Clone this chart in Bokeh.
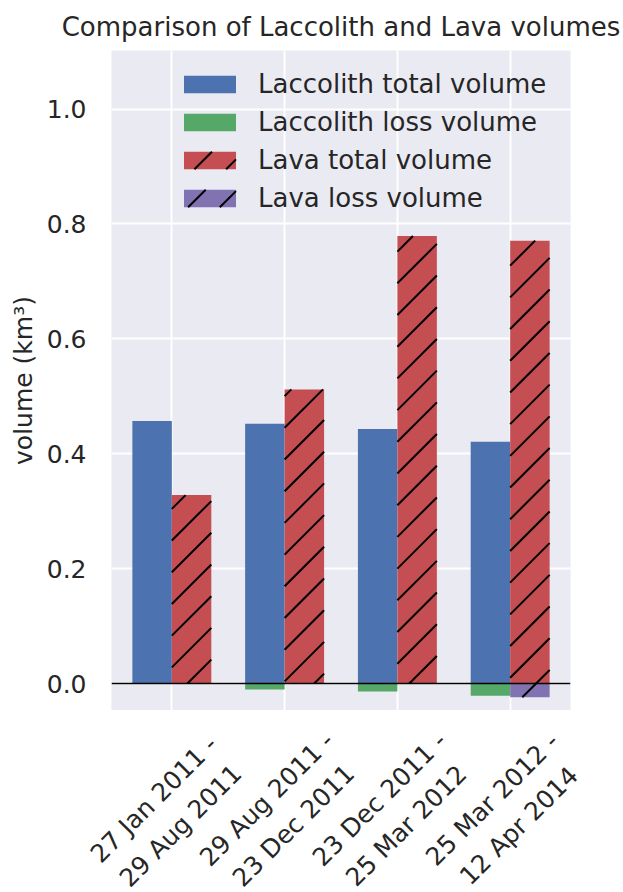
from bokeh.plotting import figure
from bokeh.models import (ColumnDataSource, Range1d, FixedTicker, Span,
                          Legend, LegendItem)
from bokeh.core.properties import value
from bokeh.layouts import column
from bokeh.embed import file_html
from bokeh.resources import INLINE
import math

# Periods compared
periods = ["27 Jan 2011 -\n29 Aug 2011",
           "29 Aug 2011 -\n23 Dec 2011",
           "23 Dec 2011 -\n25 Mar 2012",
           "25 Mar 2012 -\n12 Apr 2014"]

# Volumes in km^3
laccolith_total = [0.457, 0.452, 0.443, 0.421]
laccolith_loss = [0.0, -0.0105, -0.014, -0.0215]
lava_total = [0.328, 0.512, 0.779, 0.771]
lava_loss = [0.0, 0.0, 0.0, -0.024]

y_ticks = [0.0, 0.2, 0.4, 0.6, 0.8, 1.0]

BAR_W = 0.35
FONT = "DejaVu Sans"
TXT = "#262626"
C_LAC_TOT, C_LAC_LOSS = "#4C72B0", "#55A868"
C_LAV_TOT, C_LAV_LOSS = "#C44E52", "#8172B2"

# page / frame geometry (pixels)
W, H_MAIN, H_LABELS = 623, 710, 182
LEFT, RIGHT, TOP = 111, 53, 50
X0, X1 = -0.535, 3.535
Y0, Y1 = -0.047, 1.102
PX_X = (W - LEFT - RIGHT) / (X1 - X0)
PX_Y = (H_MAIN - TOP) / (Y1 - Y0)

idx = list(range(len(periods)))
left_x = [i - BAR_W / 2 for i in idx]
right_x = [i + BAR_W / 2 for i in idx]

src = ColumnDataSource(dict(
    lx=left_x, rx=right_x,
    lac_tot=laccolith_total, lac_loss=laccolith_loss,
    lav_tot=lava_total, lav_loss=lava_loss,
))


def to_sx(x):
    return LEFT + (x - X0) * PX_X


def to_sy(y):
    return TOP + (Y1 - y) * PX_Y


def from_sx(sx):
    return X0 + (sx - LEFT) / PX_X


def from_sy(sy):
    return Y1 - (sy - TOP) / PX_Y


HATCH_STEP, HATCH_PHASE = 31.7, 14.0


def hatch_pixels(xa, xb, ya, yb):
    """45 degree '/' strokes (x + y = c on screen) clipped to a pixel box."""
    segs = []
    k = math.floor((xa + ya - HATCH_PHASE) / HATCH_STEP)
    while True:
        c = HATCH_PHASE + k * HATCH_STEP
        if c > xb + yb:
            break
        lo, hi = max(xa, c - yb), min(xb, c - ya)
        if hi > lo:
            segs.append((lo, c - lo, hi, c - hi))
        k += 1
    return segs


def hatch_bar(xc, top):
    """hatch strokes of a bar centred at xc reaching from 0 to top (data)."""
    xa, xb = to_sx(xc - BAR_W / 2), to_sx(xc + BAR_W / 2)
    ya, yb = sorted((to_sy(0.0), to_sy(top)))
    return hatch_pixels(xa, xb, ya, yb)


def free_frame(fig):
    # keep each figure's own frame instead of lining frames up in the column
    if "frame_align" in fig.properties():
        fig.frame_align = False


p = figure(width=W, height=H_MAIN, output_backend="svg", toolbar_location=None,
           x_range=Range1d(X0, X1), y_range=Range1d(Y0, Y1),
           min_border_left=LEFT, min_border_right=RIGHT,
           min_border_top=TOP, min_border_bottom=0,
           title="Comparison of Laccolith and Lava volumes")
free_frame(p)

p.background_fill_color = "#EAEAF2"
p.border_fill_color = "white"
p.outline_line_color = None

p.title.text_font = FONT
p.title.text_font_size = "26px"
p.title.text_font_style = "normal"
p.title.text_color = TXT
p.title.align = "center"
p.title.offset = 0
p.title.standoff = 18

r_lac_tot = p.vbar(x="lx", top="lac_tot", bottom=0, width=BAR_W, source=src,
                   fill_color=C_LAC_TOT, line_color=None)
r_lac_loss = p.vbar(x="lx", top="lac_loss", bottom=0, width=BAR_W, source=src,
                    fill_color=C_LAC_LOSS, line_color=None)
r_lav_tot = p.vbar(x="rx", top="lav_tot", bottom=0, width=BAR_W, source=src,
                   fill_color=C_LAV_TOT, line_color=None)
r_lav_loss = p.vbar(x="rx", top="lav_loss", bottom=0, width=BAR_W, source=src,
                    fill_color=C_LAV_LOSS, line_color=None)

p.add_layout(Span(location=0, dimension="width", line_color="black",
                  line_width=1.3))

# grid
p.xgrid.ticker = FixedTicker(ticks=idx)
p.ygrid.ticker = FixedTicker(ticks=y_ticks)
for g in (p.xgrid, p.ygrid):
    g.grid_line_color = "white"
    g.grid_line_width = 2

# y axis
p.yaxis.ticker = FixedTicker(ticks=y_ticks)
p.yaxis.major_label_overrides = {t: f"{t:.1f}" for t in y_ticks}
p.yaxis.axis_label = "volume (km³)"
p.yaxis.axis_label_text_font = FONT
p.yaxis.axis_label_text_font_size = "25px"
p.yaxis.axis_label_text_font_style = "normal"
p.yaxis.axis_label_text_color = TXT
p.yaxis.axis_label_standoff = 6
p.yaxis.axis_line_color = None
p.yaxis.major_tick_line_color = None
p.yaxis.minor_tick_line_color = None
p.yaxis.major_label_text_font = FONT
p.yaxis.major_label_text_font_size = "25px"
p.yaxis.major_label_text_color = TXT
p.yaxis.major_label_standoff = 19
p.xaxis.visible = False

# legend geometry (pixels, offset from frame bottom-left)
LEG_X, LEG_Y = 66, 497
GLYPH_W, GLYPH_H = 65, 22
ROW_H, ROW_GAP = 30, 8

# hatched swatches for the lava entries are drawn as plot glyphs, so their
# legend entries point at invisible stand-in renderers
sw_x0 = LEFT + LEG_X + 0.1 * GLYPH_W
sw_x1 = LEFT + LEG_X + 0.9 * GLYPH_W
leg_bottom = H_MAIN - LEG_Y
sw_rows = {"loss": leg_bottom - ROW_H / 2,
           "total": leg_bottom - ROW_H / 2 - (ROW_H + ROW_GAP)}

sw_src = ColumnDataSource(dict(
    left=[from_sx(sw_x0)] * 2, right=[from_sx(sw_x1)] * 2,
    top=[from_sy(sw_rows[k] - 0.4 * GLYPH_H) for k in ("total", "loss")],
    bottom=[from_sy(sw_rows[k] + 0.4 * GLYPH_H) for k in ("total", "loss")],
    color=[C_LAV_TOT, C_LAV_LOSS],
))
p.quad(left="left", right="right", top="top", bottom="bottom",
       fill_color="color", line_color=None, source=sw_src)

# diagonal hatching of the lava bars and of their swatches
segs = []
for xc, t in zip(right_x, lava_total):
    segs += hatch_bar(xc, t)
for xc, t in zip(right_x, lava_loss):
    if t != 0:
        segs += hatch_bar(xc, t)
for cy in sw_rows.values():
    segs += hatch_pixels(sw_x0, sw_x1, cy - 0.4 * GLYPH_H, cy + 0.4 * GLYPH_H)

hatch_src = ColumnDataSource(dict(
    x0=[from_sx(s[0]) for s in segs], y0=[from_sy(s[1]) for s in segs],
    x1=[from_sx(s[2]) for s in segs], y1=[from_sy(s[3]) for s in segs],
))
p.segment(x0="x0", y0="y0", x1="x1", y1="y1", source=hatch_src,
          line_color="black", line_width=2)

blank_tot = p.vbar(x=[], top=[], width=BAR_W, fill_alpha=0, line_alpha=0)
blank_loss = p.vbar(x=[], top=[], width=BAR_W, fill_alpha=0, line_alpha=0)

legend = Legend(items=[
    LegendItem(label="Laccolith total volume", renderers=[r_lac_tot]),
    LegendItem(label="Laccolith loss volume", renderers=[r_lac_loss]),
    LegendItem(label="Lava total volume", renderers=[blank_tot]),
    LegendItem(label="Lava loss volume", renderers=[blank_loss]),
], location=(LEG_X, LEG_Y))
legend.background_fill_alpha = 0
legend.border_line_alpha = 0
legend.padding = 0
legend.margin = 0
legend.glyph_width = GLYPH_W
legend.glyph_height = GLYPH_H
legend.label_standoff = 16
legend.label_text_font = FONT
legend.label_text_font_size = "26px"
legend.label_text_color = TXT
legend.spacing = ROW_GAP
p.add_layout(legend, "center")

# strip under the plot holding the rotated period labels; its x range is
# the main range widened to the full page width so the labels line up
strip = figure(width=W, height=H_LABELS, output_backend="svg",
               toolbar_location=None, x_axis_type=None, y_axis_type=None,
               x_range=Range1d(X0 - LEFT / PX_X, X1 + RIGHT / PX_X),
               y_range=Range1d(0, H_LABELS),
               min_border=0)
free_frame(strip)
strip.outline_line_color = None
strip.background_fill_color = "white"
strip.border_fill_color = "white"
strip.xgrid.visible = False
strip.ygrid.visible = False

lab_src = ColumnDataSource(dict(x=[i - 0.04 for i in idx],
                                y=[80] * len(idx), text=periods))
strip.text(x="x", y="y", text="text", source=lab_src, angle=math.pi / 4,
           text_align="center", text_baseline="middle",
           text_font=value(FONT), text_font_size="25px",
           text_color=TXT, text_line_height=1.3)

layout = column(p, strip, spacing=0)
open("out.html", "w").write(file_html(layout, INLINE))
